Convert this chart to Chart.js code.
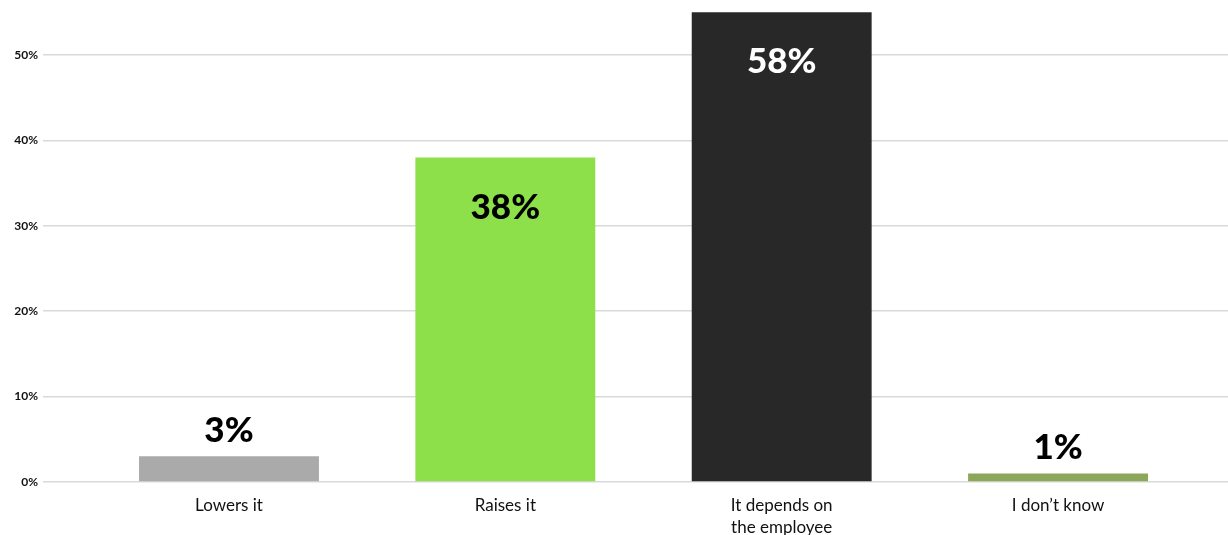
<!DOCTYPE html>
<html>
<head>
<meta charset="utf-8">
<script src="https://cdn.jsdelivr.net/npm/chart.js@4/dist/chart.umd.min.js"></script>
<style>
  html, body { margin: 0; padding: 0; background: #ffffff; }
  #wrap { width: 1228px; height: 535px; }
</style>
</head>
<body>
<div id="wrap"><canvas id="c" width="1228" height="535"></canvas></div>
<script>
// Survey answers and their shares (percent)
const categories = ['Lowers it', 'Raises it', ['It depends on', 'the employee'], 'I don\u2019t know'];
const shares = [3, 38, 58, 1];
const barColors = ['#aaaaaa', '#8ee04a', '#282828', '#8ba85a'];
const labelColors = ['#000000', '#000000', '#ffffff', '#000000'];
const yTicks = [0, 10, 20, 30, 40, 50];

const points = shares.map((v, i) => ({ x: i, y: v }));

// Value labels: inside the bar for tall bars, above it for short ones
const valueLabels = {
  id: 'valueLabels',
  afterDatasetsDraw(chart) {
    const { ctx, chartArea } = chart;
    const meta = chart.getDatasetMeta(0);
    ctx.save();
    ctx.font = '900 35px Lato';
    ctx.textAlign = 'center';
    ctx.textBaseline = 'middle';
    meta.data.forEach((bar, i) => {
      const v = shares[i];
      let y;
      if (v >= 10) {
        y = Math.max(bar.y, chartArea.top) + 50;
      } else {
        y = bar.y - 26;
      }
      ctx.fillStyle = labelColors[i];
      ctx.fillText(v + '%', bar.x, y);
    });
    ctx.restore();
  }
};

new Chart(document.getElementById('c'), {
  type: 'bar',
  data: {
    datasets: [{
      data: points,
      backgroundColor: barColors,
      borderWidth: 0,
      categoryPercentage: 1,
      barPercentage: 0.651
    }]
  },
  options: {
    responsive: false,
    animation: false,
    layout: { padding: { top: 8, right: 0, left: 0, bottom: 0 } },
    plugins: {
      legend: { display: false },
      tooltip: { enabled: false }
    },
    scales: {
      x: {
        type: 'linear',
        offset: false,
        min: -0.673,
        max: 3.615,
        grid: { display: false, drawTicks: false },
        border: { display: false },
        afterFit(scale) { scale.height = 53; },
        afterBuildTicks(scale) {
          scale.ticks = categories.map((c, i) => ({ value: i }));
        },
        ticks: {
          includeBounds: false,
          maxRotation: 0,
          autoSkip: false,
          padding: 12,
          color: '#111111',
          font: { family: 'Lato', size: 17, lineHeight: 1.3 },
          callback: (v) => categories[v] !== undefined ? categories[v] : ''
        }
      },
      y: {
        min: 0,
        max: 55,
        afterFit(scale) { scale.width = 43; },
        afterBuildTicks(scale) {
          scale.ticks = yTicks.map(v => ({ value: v }));
        },
        grid: { color: '#d9d9d9', lineWidth: 1.5, drawTicks: false },
        border: { display: false },
        ticks: {
          includeBounds: false,
          padding: 5,
          color: '#111111',
          font: { family: 'Lato', size: 12, weight: 'bold' },
          callback: (v) => v + '%'
        }
      }
    }
  },
  plugins: [valueLabels]
});
</script>
</body>
</html>
